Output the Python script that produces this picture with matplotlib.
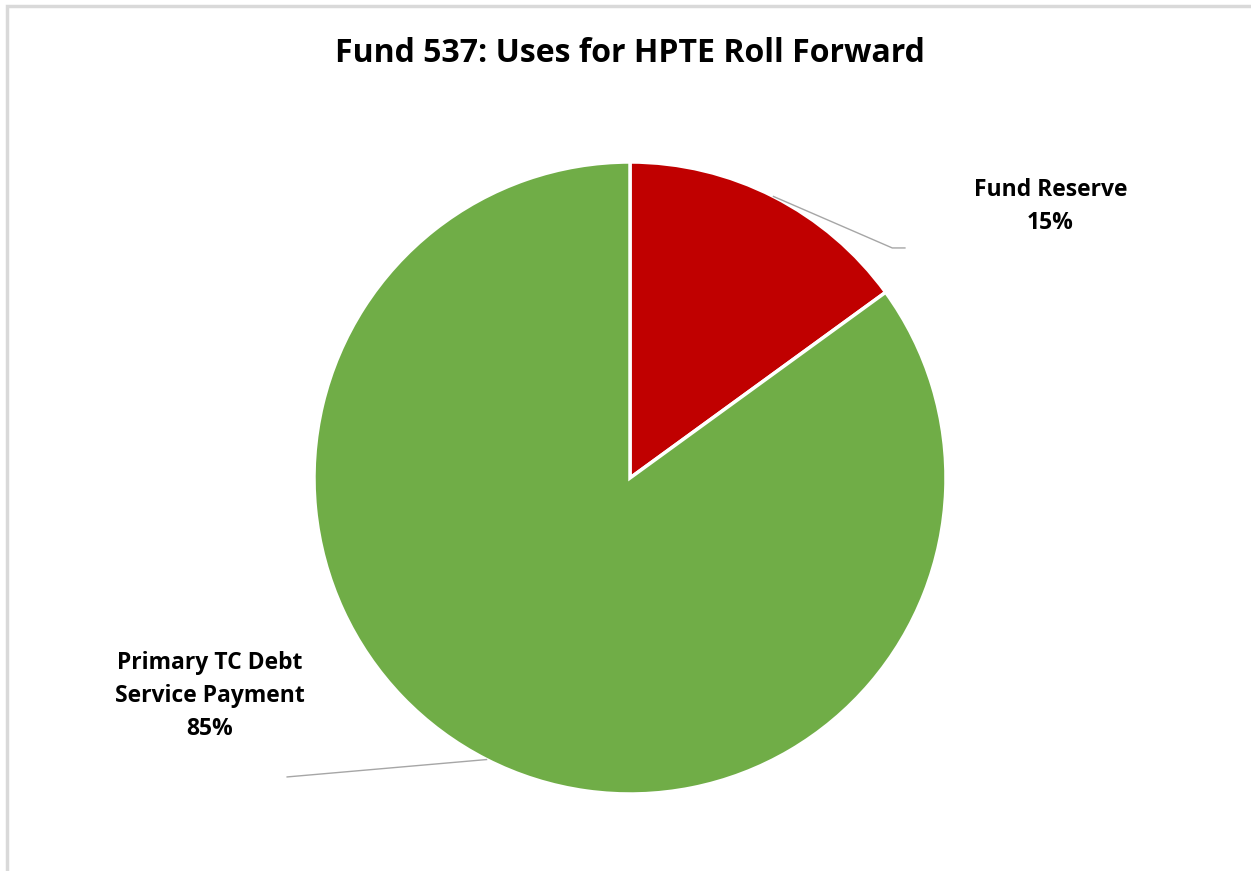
import matplotlib.pyplot as plt
import numpy as np
from matplotlib.patches import Rectangle

# Fund 537 uses, share of total
labels = ["Fund Reserve", "Primary TC Debt\nService Payment"]
shares = [15, 85]
colors = ["#C00000", "#70AD47"]

plt.rcParams['font.family'] = ['Open Sans', 'DejaVu Sans']

fig = plt.figure(figsize=(12.51, 8.71), dpi=100)

# light grey chart border (right and bottom run off the picture)
fig.patches.append(Rectangle((7 / 1251, -0.05), 1.2, 1 - 6 / 871 + 0.05,
                             transform=fig.transFigure, fill=False,
                             edgecolor="#D9D9D9", linewidth=2.5))

fig.text(630 / 1251, 1 - 53 / 871, "Fund 537: Uses for HPTE Roll Forward",
         ha="center", va="center", fontsize=23, fontweight="bold")

# pie centre (630, 478) px, radius 316 px
ax = fig.add_axes([(630 - 316) / 1251, (871 - 478 - 316) / 871, 632 / 1251, 632 / 871])
wedges, _ = ax.pie(shares, colors=colors, startangle=90, counterclock=False,
                   radius=1, wedgeprops=dict(edgecolor="white", linewidth=2.5))
ax.set_xlim(-1, 1)
ax.set_ylim(-1, 1)
ax.set_aspect("equal")
ax.axis("off")

# label positions and leader line ends (data units, radius = 1)
text_pos = [(1.33, 0.86), (-1.33, -0.69)]
line_ends = [[(0.83, 0.728), (0.87, 0.728)], [(-1.085, -0.946)]]

for w, lab, s, tp, ends in zip(wedges, labels, shares, text_pos, line_ends):
    mid = np.deg2rad((w.theta1 + w.theta2) / 2)
    start = (np.cos(mid), np.sin(mid))
    xs = [start[0]] + [p[0] for p in ends]
    ys = [start[1]] + [p[1] for p in ends]
    ax.plot(xs, ys, color="#A6A6A6", linewidth=1, clip_on=False)
    ax.text(tp[0], tp[1], f"{lab}\n{s}%", ha="center", va="center",
            fontsize=16.5, fontweight="bold", linespacing=1.5)

fig.savefig("out.png", dpi=100)
